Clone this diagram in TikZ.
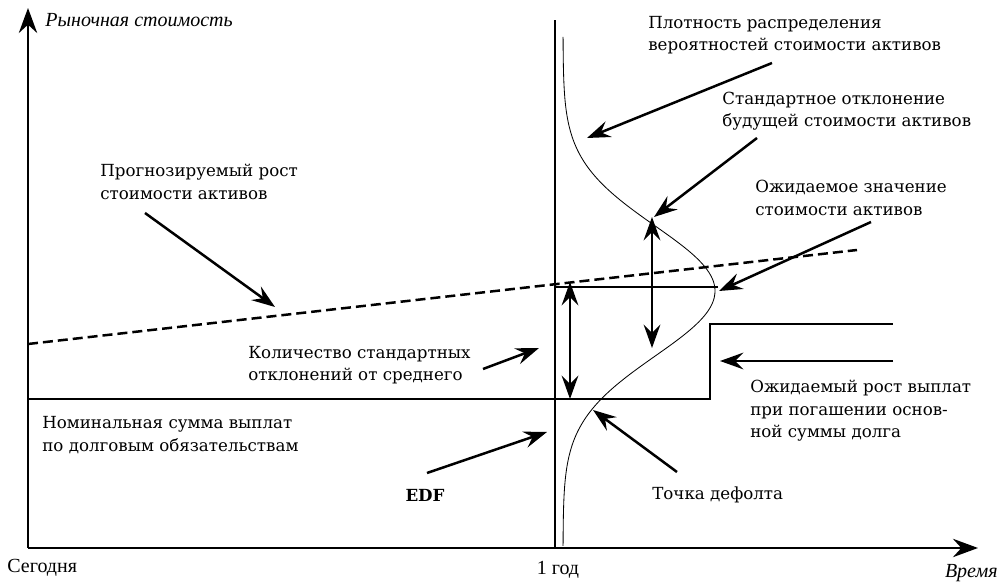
\documentclass[tikz,border=0pt]{standalone}
\usepackage{fontspec}
\setmainfont{DejaVu Serif}
\newfontfamily\axisfont{Liberation Serif}
\usetikzlibrary{arrows.meta,positioning,calc}

\begin{document}
\begin{tikzpicture}[x=0.6pt,y=-0.6pt,font=\fontsize{10}{13.5}\selectfont,
	txt/.style={align=left,inner sep=0pt,anchor=west},
	axlabel/.style={inner sep=0pt,font=\axisfont\fontsize{12}{14}\selectfont},
	axis/.style={line width=1.7pt,-{Stealth[length=15pt,width=11pt,inset=5pt]}},
	pointer/.style={line width=1.5pt,-{Stealth[length=14pt,width=10pt,inset=5pt]}},
	twoway/.style={line width=1.5pt,{Stealth[length=14pt,width=10pt,inset=5pt]}-{Stealth[length=14pt,width=10pt,inset=5pt]}},
	level/.style={line width=0.9pt},
	trend/.style={line width=1.5pt,dash pattern=on 6pt off 3pt}]
		\useasboundingbox (0,0) rectangle (1004,584);

		\coordinate (O) at (28,548);
		\coordinate (ytop) at (28,8);
		\coordinate (xend) at (978,548);
		\coordinate (yr) at (555,548);
		\coordinate (yrtop) at (555,20);
		\draw[axis] (O) -- (ytop);
		\draw[axis] (O) -- (xend);
		\draw[level] (yr) -- (yrtop);

		\node[axlabel,anchor=west,font=\axisfont\itshape\fontsize{12}{14}\selectfont] (yl) at (45,20) {Рыночная стоимость};
		\node[axlabel,anchor=west] (today) at (7,568) {Сегодня};
		\node[axlabel] (year) at (558,570) {1 год};
		\node[axlabel,anchor=east,font=\axisfont\itshape\fontsize{12}{14}\selectfont] (time) at (998,573) {Время};

		% density of asset value at the horizon
		\draw[line width=0.5pt] plot[domain=37:546,samples=120,smooth] ({563+152*exp(-0.5*pow((\x-291)/65,2))},\x);

		\coordinate (dp0) at (28,399);
		\coordinate (dp1) at (710,399);
		\coordinate (dp2) at (710,324);
		\coordinate (dp3) at (893,324);
		\draw[level] (dp0) -- (dp1) -- (dp2) -- (dp3);
		\coordinate (m0) at (555,287);
		\coordinate (m1) at (718,287);
		\draw[level] (m0) -- (m1);
		\coordinate (g0) at (28,344);
		\coordinate (g1) at (857,250);
		\draw[trend] (g0) -- (g1);

		\coordinate (k0) at (570,282);
		\coordinate (k1) at (570,399);
		\draw[twoway] (k0) -- (k1);
		\coordinate (s0) at (652,217);
		\coordinate (s1) at (652,348);
		\draw[twoway] (s0) -- (s1);

		\node[txt] (dens) at (648,35) {Плотность распределения\\вероятностей стоимости активов};
		\node[txt] (std) at (722,111) {Стандартное отклонение\\будущей стоимости активов};
		\node[txt] (mean) at (755,198) {Ожидаемое значение\\стоимости активов};
		\node[txt] (pay) at (750,411) {Ожидаемый рост выплат\\при погашении основ-\\ной суммы долга};
		\node[txt] (grow) at (100,182) {Прогнозируемый рост\\стоимости активов};
		\node[txt] (ksd) at (248,365) {Количество стандартных\\отклонений от среднего};
		\node[txt] (nom) at (42,435) {Номинальная сумма выплат\\по долговым обязательствам};
		\node[inner sep=0pt,font=\bfseries] (edf) at (425,495) {EDF};
		\node[txt] (dflt) at (652,495) {Точка дефолта};

		\coordinate (a1) at (772,63);
		\coordinate (b1) at (587,138);
		\coordinate (a2) at (757,138);
		\coordinate (b2) at (654,217);
		\coordinate (a3) at (871,222);
		\coordinate (b3) at (719,291);
		\coordinate (a4) at (893,361);
		\coordinate (b4) at (720,361);
		\coordinate (a5) at (483,369);
		\coordinate (b5) at (539,348);
		\coordinate (a6) at (427,473);
		\coordinate (b6) at (547,432);
		\coordinate (a7) at (677,472);
		\coordinate (b7) at (593,410);
		\coordinate (a8) at (145,213);
		\coordinate (b8) at (275,307);
		\foreach \i in {1,...,8}
			\draw[pointer] (a\i) -- (b\i);
\end{tikzpicture}
\end{document}
